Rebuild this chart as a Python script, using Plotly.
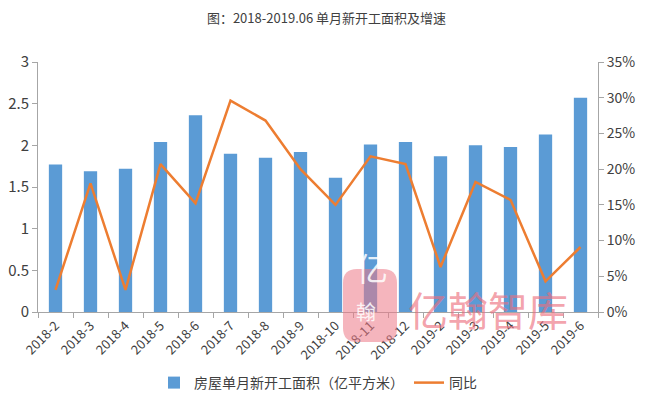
import plotly.graph_objects as go

months = ["2018-2", "2018-3", "2018-4", "2018-5", "2018-6", "2018-7", "2018-8", "2018-9",
          "2018-10", "2018-11", "2018-12", "2019-2", "2019-3", "2019-4", "2019-5", "2019-6"]
area = [1.77, 1.69, 1.72, 2.04, 2.36, 1.90, 1.85, 1.92, 1.61, 2.01, 2.04, 1.87, 2.00, 1.98, 2.13, 2.57]
yoy = [0.031, 0.180, 0.031, 0.207, 0.152, 0.296, 0.268, 0.200, 0.150, 0.218, 0.207, 0.063, 0.182, 0.157, 0.043, 0.091]

FONT = "Noto Sans CJK SC, DejaVu Sans, sans-serif"

W, H = 637, 388
L, R, T, B = 30, 47, 54, 84
PW, PH = W - L - R, H - T - B


def px(x):
    return (x - L) / PW


def py(y):
    return (H - B - y) / PH


fig = go.Figure()
fig.add_trace(go.Bar(x=months, y=area, name="房屋单月新开工面积（亿平方米）",
                     marker=dict(color="#5B9BD5", line=dict(width=0)), yaxis="y"))
fig.add_trace(go.Scatter(x=months, y=yoy, name="同比", mode="lines",
                         line=dict(color="#ED7D31", width=2.5), yaxis="y2"))

# watermark logo (rounded blob) + text
x0, x1, y0, y1, r = 335, 389, 261, 334, 14
path = (f"M {px(x0 + r)},{py(y0)} L {px(x1 - r)},{py(y0)} "
        f"Q {px(x1)},{py(y0)} {px(x1)},{py(y0 + r)} L {px(x1)},{py(y1 - r)} "
        f"Q {px(x1)},{py(y1)} {px(x1 - r)},{py(y1)} L {px(x0 + r)},{py(y1)} "
        f"Q {px(x0)},{py(y1)} {px(x0)},{py(y1 - r)} L {px(x0)},{py(y0 + r)} "
        f"Q {px(x0)},{py(y0)} {px(x0 + r)},{py(y0)} Z")
fig.add_shape(type="path", xref="paper", yref="paper", path=path,
              fillcolor="rgba(236,120,135,0.55)", line=dict(width=0), layer="above")
fig.add_annotation(text="亿", x=px(364), y=py(284), xref="paper", yref="paper",
                   showarrow=False, font=dict(size=32, color="rgba(255,255,255,0.85)", family=FONT))
fig.add_annotation(text="翰", x=px(358), y=py(320), xref="paper", yref="paper",
                   showarrow=False, font=dict(size=20, color="rgba(255,255,255,0.85)", family=FONT))
fig.add_annotation(text="亿翰智库", x=px(480), y=py(301), xref="paper", yref="paper",
                   xanchor="center", yanchor="middle", showarrow=False,
                   font=dict(size=40, color="rgba(236,110,125,0.65)", family=FONT))

fig.update_layout(
    width=W, height=H,
    margin=dict(l=L, r=R, t=T, b=B, autoexpand=False),
    paper_bgcolor="white", plot_bgcolor="white",
    font=dict(family=FONT, size=12, color="#404040"),
    title=dict(text="图：2018-2019.06 单月新开工面积及增速", x=0.5, xanchor="center",
               y=1 - 10 / H, yref="container", yanchor="middle",
               font=dict(size=13, color="#404040")),
    bargap=0.62,
    showlegend=True,
    legend=dict(orientation="h", x=0.5, xanchor="center", y=py(375), yanchor="middle",
                font=dict(size=14, color="#404040"), bgcolor="rgba(0,0,0,0)"),
    xaxis=dict(type="category", tickangle=-45, showgrid=False, showline=True,
               linecolor="#A6A6A6", ticks="outside", tickson="boundaries",
               tickcolor="#A6A6A6", ticklen=5, tickfont=dict(size=13), automargin=False),
    yaxis=dict(range=[0, 3], dtick=0.5, showgrid=False, showline=True, linecolor="#A6A6A6",
               ticks="outside", tickcolor="#A6A6A6", ticklen=5, zeroline=False,
               tickfont=dict(size=15), automargin=False),
    yaxis2=dict(range=[0, 0.35], dtick=0.05, tickformat=".0%", overlaying="y", side="right",
                showgrid=False, showline=True, linecolor="#A6A6A6", ticks="outside",
                tickcolor="#A6A6A6", ticklen=5, zeroline=False, tickfont=dict(size=14),
                automargin=False),
)

fig.write_html("out.html")
